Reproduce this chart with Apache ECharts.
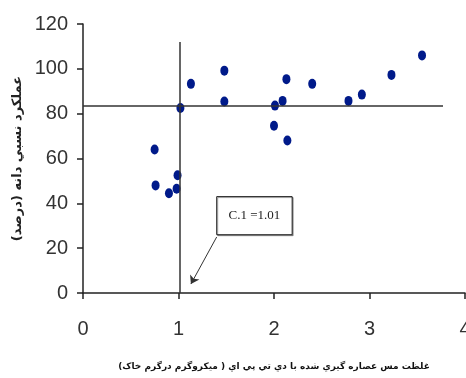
<!DOCTYPE html>
<html>
<head>
<meta charset="utf-8">
<script src="https://cdn.jsdelivr.net/npm/echarts@6/dist/echarts.min.js"></script>
<style>
  html, body { margin: 0; padding: 0; background: #fff; }
  #chart { width: 466px; height: 378px; }
</style>
</head>
<body>
<div id="chart"></div>
<script>
// copper concentration (x) and relative yield % (y)
var copperX = [0.75, 0.76, 0.90, 0.98, 0.99, 1.02, 1.13, 1.48, 1.48, 2.00, 2.01, 2.09, 2.13, 2.14, 2.40, 2.78, 2.92, 3.23, 3.55]
var yieldY = [64, 48, 44.5, 46.5, 52.5, 82.5, 93.3, 99.2, 85.4, 74.6, 83.6, 85.7, 95.4, 68, 93.3, 85.7, 88.5, 97.3, 106]

// critical level lines
var criticalX = 1.01
var criticalY = 83.5
var vLineTop = 112
var hLineEnd = 3.77

var xTicks = [0, 1, 2, 3, 4]
var yTicks = [0, 20, 40, 60, 80, 100, 120]

var xTitle = 'غلظت مس عصاره گيري شده با دي تي پي اي ( ميکروگرم درگرم خاک)'
var yTitle = 'عملکرد نسبي دانه (درصد)'
var noteText = 'C.1 =1.01'

var points = copperX.map(function (x, i) { return [x, yieldY[i]] })

var myChart = echarts.init(document.getElementById('chart'))

var tickLabel = {
  color: '#333',
  fontSize: 20,
  fontFamily: 'Liberation Sans Narrow, Liberation Sans, Arial, sans-serif'
}

var option = {
  backgroundColor: '#fff',
  animation: false,
  grid: {
    left: 83,
    right: 1,
    top: 24,
    bottom: 85,
    outerBoundsMode: 'none'
  },
  xAxis: {
    type: 'value',
    min: xTicks[0],
    max: xTicks[xTicks.length - 1],
    interval: 1,
    splitLine: { show: false },
    axisLine: { onZero: false, lineStyle: { color: '#222', width: 1.5 } },
    axisTick: { length: 6, lineStyle: { color: '#222', width: 1.5 } },
    axisLabel: Object.assign({ margin: 26, showMaxLabel: true, alignMaxLabel: 'center', alignMinLabel: 'center' }, tickLabel),
    name: xTitle,
    nameLocation: 'middle',
    nameGap: 69,
    nameTextStyle: {
      color: '#111',
      fontSize: 9,
      fontWeight: 'bold',
      fontFamily: 'DejaVu Sans'
    }
  },
  yAxis: {
    type: 'value',
    min: yTicks[0],
    max: yTicks[yTicks.length - 1],
    interval: 20,
    splitLine: { show: false },
    axisLine: { show: true, lineStyle: { color: '#222', width: 1.5 } },
    axisTick: { show: true, length: 6, lineStyle: { color: '#222', width: 1.5 } },
    axisLabel: Object.assign({ margin: 15 }, tickLabel),
    name: yTitle,
    nameLocation: 'middle',
    nameGap: 55,
    nameTextStyle: {
      color: '#222',
      fontSize: 13,
      fontWeight: 'bold',
      fontFamily: 'DejaVu Sans'
    }
  },
  series: [{
    type: 'scatter',
    data: points,
    symbol: 'circle',
    symbolSize: [8, 10],
    itemStyle: { color: '#001a8a', opacity: 1 },
    z: 3,
    markLine: {
      silent: true,
      symbol: ['none', 'none'],
      label: { show: false },
      lineStyle: { color: '#333', width: 1.5, type: 'solid' },
      data: [
        [{ coord: [criticalX, 0] }, { coord: [criticalX, vLineTop] }],
        [{ coord: [0, criticalY] }, { coord: [hLineEnd, criticalY] }],
        [
          { coord: [1.40, 25], symbol: 'none' },
          { coord: [1.13, 4], symbol: 'arrow', symbolSize: 8, lineStyle: { width: 1 } }
        ]
      ]
    },
    markArea: {
      silent: true,
      itemStyle: {
        color: '#fff',
        borderColor: '#222',
        borderWidth: 1,
        shadowColor: 'rgba(0,0,0,0.35)',
        shadowOffsetX: 1,
        shadowOffsetY: 1
      },
      label: {
        show: true,
        position: 'inside',
        formatter: noteText,
        color: '#222',
        fontSize: 13,
        fontFamily: 'Liberation Serif'
      },
      data: [[{ coord: [1.40, 43] }, { coord: [2.19, 26] }]]
    }
  }]
}

myChart.setOption(option, true)
</script>
</body>
</html>
